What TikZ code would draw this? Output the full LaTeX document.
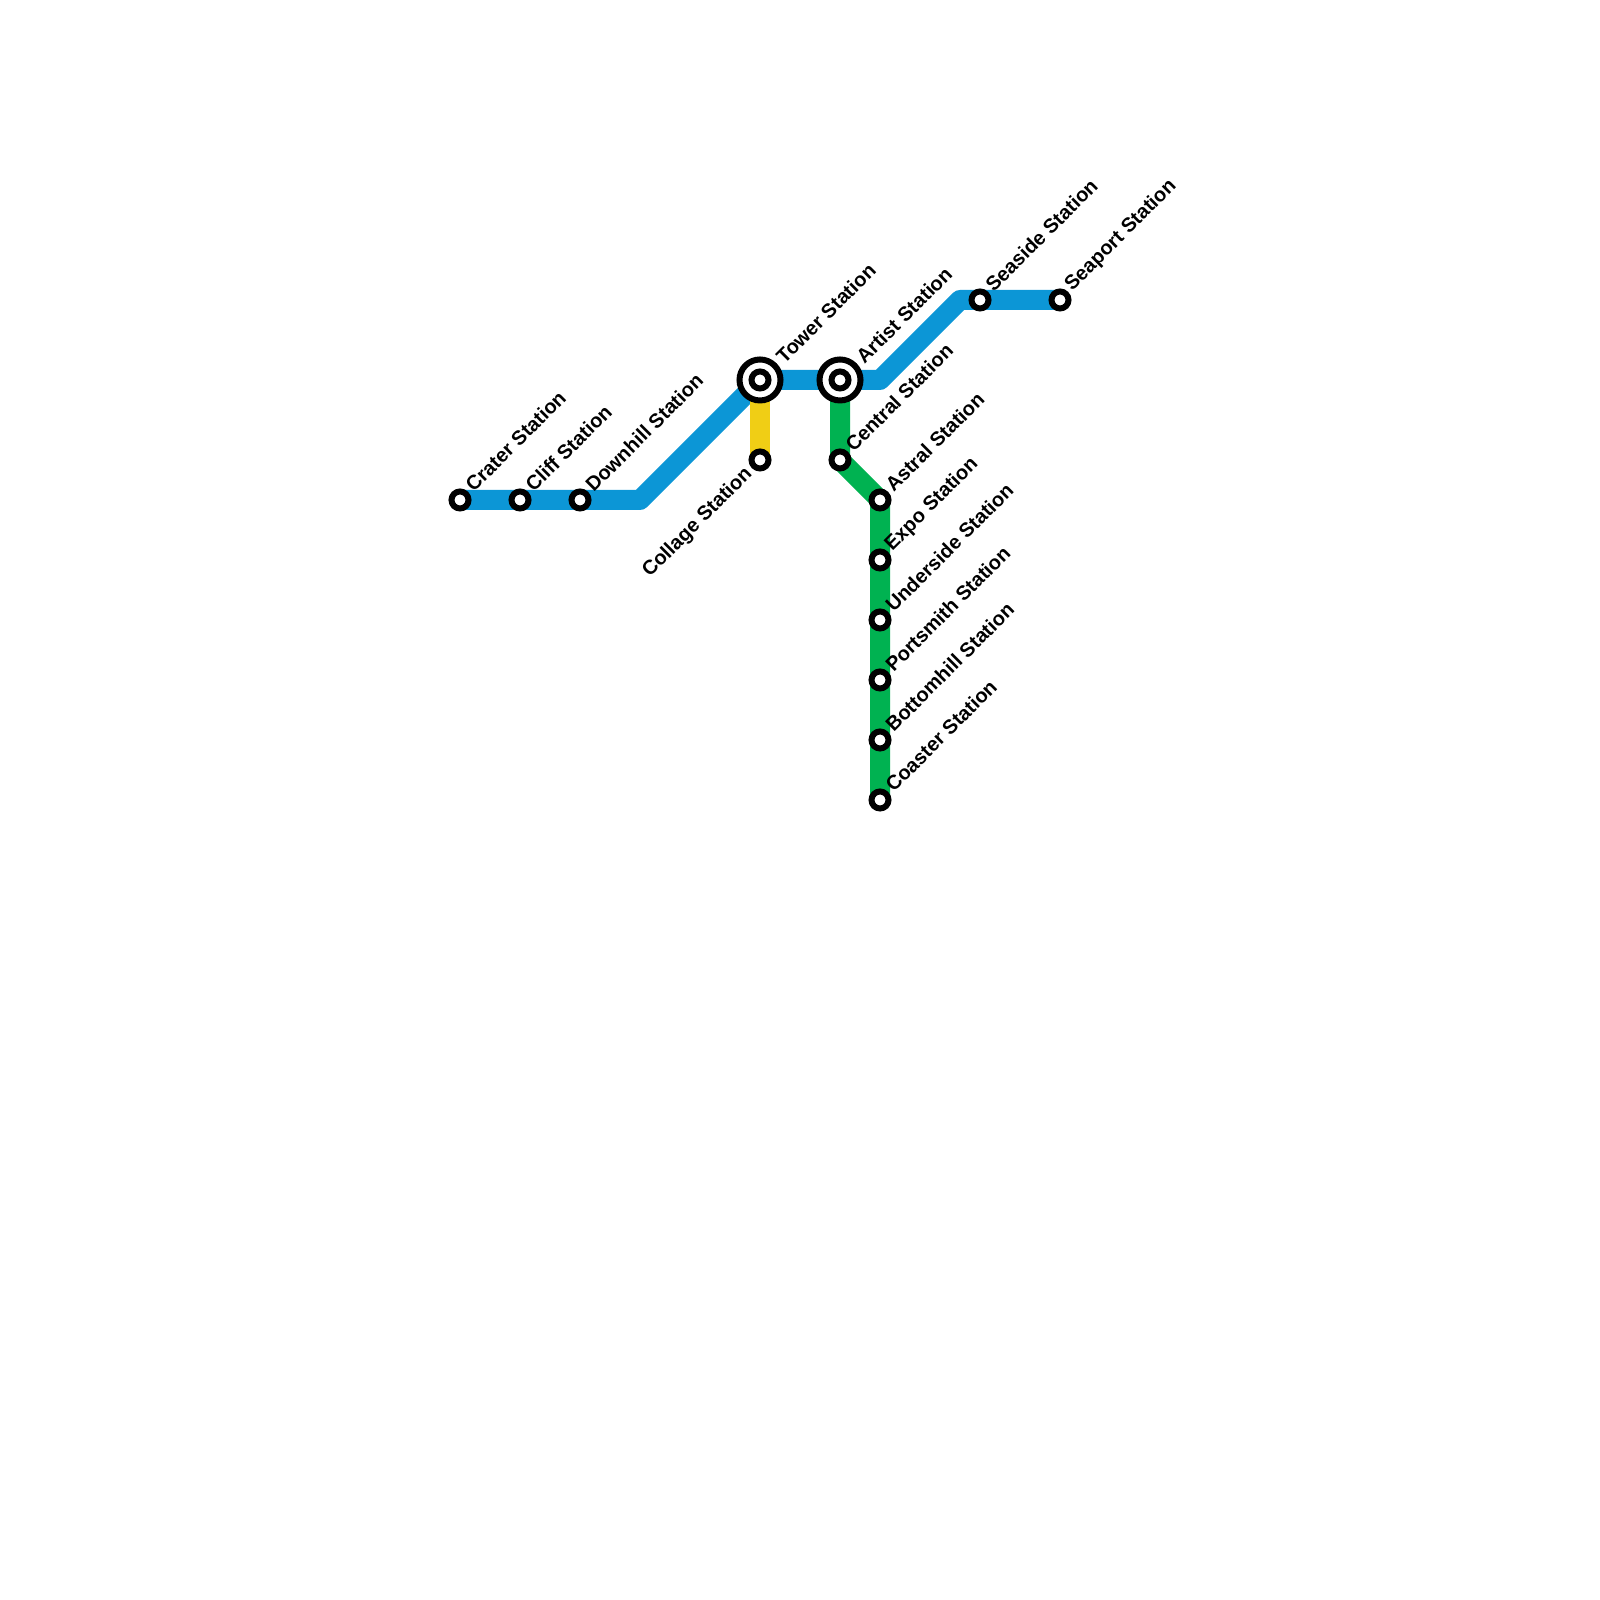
\documentclass[tikz,border=0pt]{standalone}
\usepackage{fontspec}
\setmainfont{Liberation Sans}
\usetikzlibrary{positioning, backgrounds}

\begin{document}
\begin{tikzpicture}[
    node distance=30pt, on grid,
    station/.style={draw, circle, line width=3pt, fill=white, inner sep=0pt,
                    outer sep=0pt, minimum size=8.5pt},
    hub/.style={draw, circle, line width=3pt, fill=white, inner sep=0pt,
                outer sep=0pt, minimum size=20.5pt},
    stationlabel/.style={rotate=45, anchor=west, inner sep=0pt, xshift=7.2pt, yshift=1.2pt,
                         font=\fontsize{10}{12}\selectfont\bfseries},
    hublabel/.style={stationlabel, xshift=6.8pt, yshift=-0.9pt},
    leftlabel/.style={stationlabel, anchor=east, xshift=-14.8pt, yshift=-1.4pt},
    metroline/.style={line width=10pt, line join=round}
  ]
  \definecolor{lineblue}{HTML}{0C96D6}
  \definecolor{linegreen}{HTML}{00B251}
  \definecolor{lineyellow}{HTML}{F0CE15}
  \useasboundingbox (0,0) rectangle (800pt,800pt);

  % blue line
  \node[station] (crater) at (230pt,550pt) {};
  \node[station, right=of crater] (cliff) {};
  \node[station, right=of cliff] (downhill) {};
  \coordinate[right=of downhill] (bendlow);
  \node[station, above right=60pt and 60pt of bendlow, anchor=center] (tower) {};
  \node[station, right=40pt of tower] (artist) {};
  \coordinate[right=20pt of artist] (bendmid);
  \coordinate[above right=40pt and 40pt of bendmid] (bendhigh);
  \node[station, right=10pt of bendhigh, anchor=center] (seaside) {};
  \node[station, right=40pt of seaside] (seaport) {};

  % yellow line
  \node[station, below=40pt of tower] (collage) {};

  % green line
  \node[station, below=40pt of artist] (central) {};
  \node[station, below right=20pt and 20pt of central] (astral) {};
  \node[station, below=of astral] (expo) {};
  \node[station, below=of expo] (underside) {};
  \node[station, below=of underside] (portsmith) {};
  \node[station, below=of portsmith] (bottomhill) {};
  \node[station, below=of bottomhill] (coaster) {};

  \begin{scope}[on background layer]
    \draw[metroline, lineblue] (crater.center) -- (cliff.center) -- (downhill.center)
      -- (bendlow) -- (tower.center) -- (artist.center) -- (bendmid) -- (bendhigh)
      -- (seaside.center) -- (seaport.center);
    \draw[metroline, lineyellow] (tower.center) -- (collage.center);
    \draw[metroline, linegreen] (artist.center) -- (central.center) -- (astral.center)
      -- (expo.center) -- (underside.center) -- (portsmith.center)
      -- (bottomhill.center) -- (coaster.center);
    \node[hub] (towerring) at (tower) {};
    \node[hub] (artistring) at (artist) {};
  \end{scope}

  \node[stationlabel] (craterlabel) at (crater) {Crater Station};
  \node[stationlabel] (clifflabel) at (cliff) {Cliff Station};
  \node[stationlabel] (downhilllabel) at (downhill) {Downhill Station};
  \node[hublabel] (towerlabel) at (tower) {Tower Station};
  \node[hublabel] (artistlabel) at (artist) {Artist Station};
  \node[stationlabel] (seasidelabel) at (seaside) {Seaside Station};
  \node[stationlabel] (seaportlabel) at (seaport) {Seaport Station};
  \node[leftlabel] (collagelabel) at (collage) {Collage Station};
  \node[stationlabel] (centrallabel) at (central) {Central Station};
  \node[stationlabel] (astrallabel) at (astral) {Astral Station};
  \node[stationlabel] (expolabel) at (expo) {Expo Station};
  \node[stationlabel] (undersidelabel) at (underside) {Underside Station};
  \node[stationlabel] (portsmithlabel) at (portsmith) {Portsmith Station};
  \node[stationlabel] (bottomhilllabel) at (bottomhill) {Bottomhill Station};
  \node[stationlabel] (coasterlabel) at (coaster) {Coaster Station};
\end{tikzpicture}
\end{document}
